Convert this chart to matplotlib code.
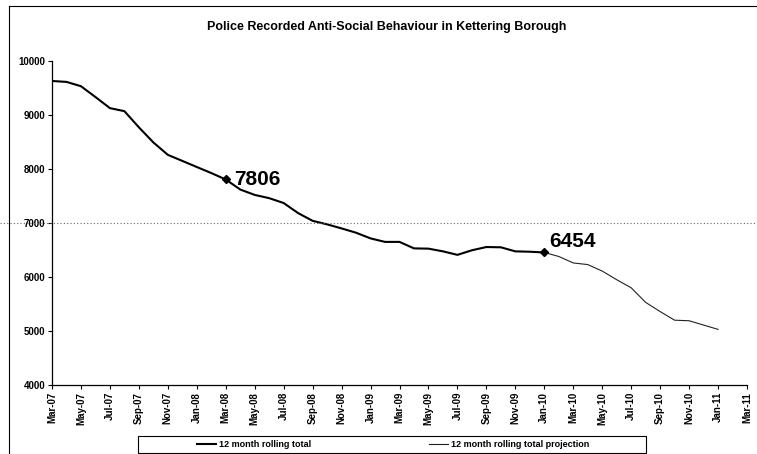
import matplotlib
matplotlib.use("Agg")
import matplotlib.pyplot as plt
import matplotlib.transforms as mtransforms
from matplotlib.patches import Rectangle
from matplotlib.lines import Line2D

plt.rcParams['font.family'] = ['Liberation Sans', 'DejaVu Sans']

title = "Police Recorded Anti-Social Behaviour in Kettering Borough"

tick_labels = ["Mar-07", "May-07", "Jul-07", "Sep-07", "Nov-07", "Jan-08", "Mar-08",
               "May-08", "Jul-08", "Sep-08", "Nov-08", "Jan-09", "Mar-09", "May-09",
               "Jul-09", "Sep-09", "Nov-09", "Jan-10", "Mar-10", "May-10", "Jul-10",
               "Sep-10", "Nov-10", "Jan-11", "Mar-11"]

# Monthly rolling totals, Mar-07 .. Jan-10
actual = [9630, 9613, 9533, 9333, 9127, 9071, 8772, 8492, 8262, 8150,
          8037, 7925, 7806, 7620, 7520, 7460, 7370, 7183, 7040, 6975,
          6900, 6820, 6715, 6650, 6650, 6530, 6525, 6475, 6410, 6495,
          6555, 6550, 6475, 6468, 6454]
# Projection, Jan-10 .. Jan-11
projection = [6454, 6380, 6260, 6230, 6110, 5950, 5800, 5530, 5360, 5200,
              5190, 5110, 5030]

labelled_points = [(12, 7806), (34, 6454)]
reference_level = 7000

W, H = 757, 454
fig = plt.figure(figsize=(W / 100, H / 100), dpi=100)
ax = fig.add_axes([52 / W, 1 - 385 / H, (747 - 52) / W, (385 - 61) / H])

x_act = list(range(len(actual)))
x_proj = list(range(len(actual) - 1, len(actual) - 1 + len(projection)))

l1, = ax.plot(x_act, actual, color='black', lw=1.5, solid_joinstyle='round')
l2, = ax.plot(x_proj, projection, color='#222222', lw=0.8)

for xi, yi in labelled_points:
    ax.plot([xi], [yi], marker='D', color='black', markersize=4.5)

ax.text(12.55, 7806, "7806", fontsize=15, fontweight='bold', va='center', ha='left')
ax.text(34.35, 6454 + 200, "6454", fontsize=15, fontweight='bold', va='center', ha='left')

ax.set_xlim(0, 48)
ax.set_ylim(4000, 10000)
ax.set_yticks([4000, 5000, 6000, 7000, 8000, 9000, 10000])
ax.set_yticklabels(["4000", "5000", "6000", "7000", "8000", "9000", "10000"],
                   fontsize=7, fontweight='bold')
ax.set_xticks(list(range(0, 49, 2)))
ax.set_xticklabels(tick_labels, rotation=90, fontsize=7, fontweight='bold')
ax.tick_params(axis='both', direction='out', length=3, width=0.8, pad=2, colors='black')

for s in ['top', 'right']:
    ax.spines[s].set_visible(False)
for s in ['left', 'bottom']:
    ax.spines[s].set_linewidth(0.9)
    ax.spines[s].set_color('black')

# dotted reference line across the whole figure width
trans = mtransforms.blended_transform_factory(fig.transFigure, ax.transData)
ax.plot([0, 1], [reference_level, reference_level], transform=trans, color='#666666',
        lw=0.8, linestyle=(0, (1, 2)), clip_on=False)

fig.text(387 / W, 1 - 27 / H, title, ha='center', va='center', fontsize=9, fontweight='bold')

# outer frame (left and top edges visible)
fig.add_artist(Line2D([9 / W, 9 / W], [0, 1 - 6 / H], transform=fig.transFigure,
                      color='black', lw=0.8))
fig.add_artist(Line2D([9 / W, 1], [1 - 6 / H, 1 - 6 / H], transform=fig.transFigure,
                      color='black', lw=0.8))

# legend box
fig.add_artist(Rectangle((138 / W, 1 - 453 / H), (646 - 138) / W, (453 - 436) / H,
                         transform=fig.transFigure, fill=False, edgecolor='black', lw=0.8))
fig.legend([l1, l2], ["12 month rolling total", "12 month rolling total projection"],
           loc='center', bbox_to_anchor=(393 / W, 1 - 444.5 / H), ncol=2, frameon=False,
           prop={'size': 6.5, 'weight': 'bold'}, handlelength=2.2, handletextpad=0.3,
           columnspacing=13, borderpad=0, borderaxespad=0)

fig.savefig("out.png", dpi=100)
